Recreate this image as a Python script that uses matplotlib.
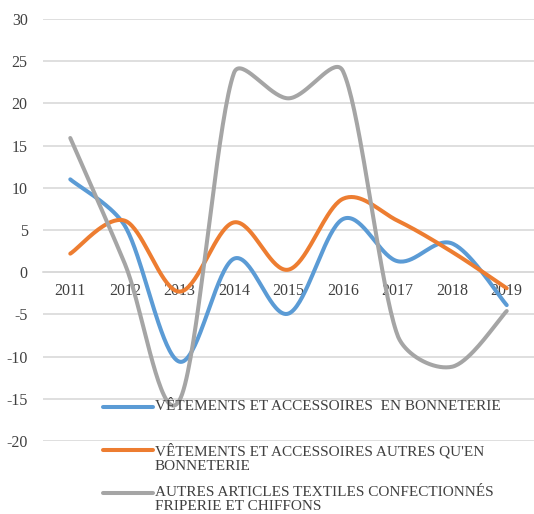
import matplotlib
matplotlib.use("Agg")
import matplotlib.pyplot as plt
import numpy as np

plt.rcParams["font.family"] = ["Liberation Serif", "DejaVu Serif"]
plt.rcParams["axes.unicode_minus"] = False

years = ["2011", "2012", "2013", "2014", "2015", "2016", "2017", "2018", "2019"]
bonneterie = [11.0, 5.5, -10.6, 1.6, -4.9, 6.3, 1.3, 3.4, -3.9]
autres_qu_en = [2.2, 6.1, -2.3, 5.9, 0.3, 8.7, 6.1, 2.4, -1.9]
autres_articles = [15.9, 1.0, -15.2, 23.6, 20.6, 23.8, -7.5, -11.2, -4.6]

labels = [
    "VÊTEMENTS ET ACCESSOIRES  EN BONNETERIE",
    "VÊTEMENTS ET ACCESSOIRES AUTRES QU'EN\nBONNETERIE",
    "AUTRES ARTICLES TEXTILES CONFECTIONNÉS\nFRIPERIE ET CHIFFONS",
]
colors = ["#5B9BD5", "#ED7D31", "#A5A5A5"]

# pixel size of one unit on each axis, used to shape the smoothing
XS, YS = 54.56, 8.44


def smooth(y, n=40):
    # Excel-like smoothed line: catmull-rom handles, clipped by segment length
    P = np.column_stack([np.arange(len(y)) * XS, np.asarray(y, dtype=float) * YS])
    m = len(P)
    tang, cr = [], []
    for i in range(m):
        d = P[min(i + 1, m - 1)] - P[max(i - 1, 0)]
        tang.append(d / np.hypot(*d))
        cr.append(np.hypot(*d) / 6)
    xs, ys = [], []
    for i in range(m - 1):
        L = np.hypot(*(P[i + 1] - P[i]))
        h1 = min(cr[i], L / 3)
        h2 = min(cr[i + 1], L / 3)
        c1 = P[i] + tang[i] * h1
        c2 = P[i + 1] - tang[i + 1] * h2
        t = np.linspace(0, 1, n)[:, None]
        B = (1 - t) ** 3 * P[i] + 3 * (1 - t) ** 2 * t * c1 + 3 * (1 - t) * t ** 2 * c2 + t ** 3 * P[i + 1]
        xs.extend(B[:, 0] / XS)
        ys.extend(B[:, 1] / YS)
    return np.array(xs), np.array(ys)


fig = plt.figure(figsize=(5.34, 5.14), dpi=100)
ax = fig.add_axes([43 / 534, 1 - 441 / 514, 1 - 43 / 534, 422 / 514])

for series, c in zip([bonneterie, autres_qu_en, autres_articles], colors):
    sx, sy = smooth(series)
    ax.plot(sx, sy, color=c, lw=2.9, solid_capstyle="round", zorder=3)

ax.set_xlim(-0.5, len(years) - 0.5)
ax.set_ylim(-20, 30)
ax.set_yticks(np.arange(-20, 31, 5))
ax.yaxis.grid(True, color="#D9D9D9", lw=1.2)
ax.set_axisbelow(True)
for s in ["left", "right", "top"]:
    ax.spines[s].set_visible(False)
ax.spines["bottom"].set_position(("data", 0))
ax.spines["bottom"].set_color("#D9D9D9")
ax.spines["bottom"].set_linewidth(1.2)
ax.set_xticks(range(len(years)))
ax.set_xticklabels(years)
ax.tick_params(axis="both", length=0, labelsize=11.5, colors="#404040")
ax.tick_params(axis="x", pad=8)
ax.tick_params(axis="y", pad=11)

# legend drawn by hand so the handle sits on the first text line
leg_y = [407, 450, 493]
for lab, c, yy in zip(labels, colors, leg_y):
    fy = 1 - yy / 514
    fig.add_artist(plt.Line2D([103 / 534, 153 / 534], [fy, fy], color=c, lw=2.9,
                              solid_capstyle="round", transform=fig.transFigure, zorder=5))
    fig.text(155 / 534, fy + 7 / 514, lab, fontsize=11, color="#404040", va="top",
             ha="left", linespacing=1.15, zorder=5)

fig.savefig("out.png", dpi=100)
